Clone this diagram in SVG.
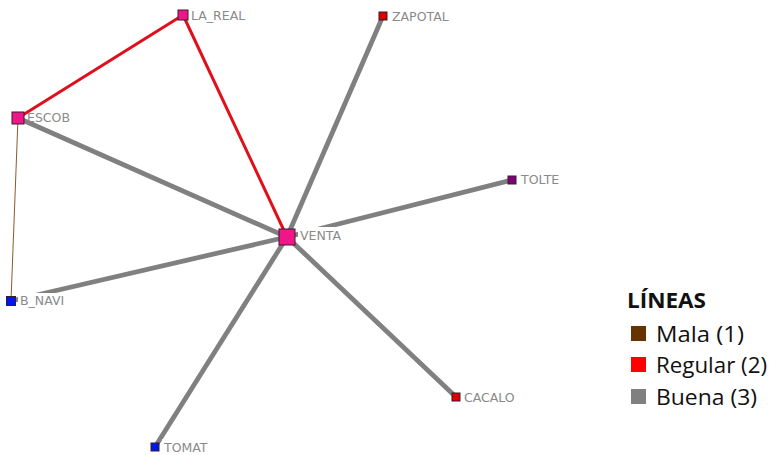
<svg xmlns="http://www.w3.org/2000/svg" width="772" height="455" viewBox="0 0 772 455">
<style>
.good{stroke:#808080;stroke-width:4.8;fill:none}
.reg{stroke:#E0101A;stroke-width:3;fill:none}
.bad{stroke:#8B5A2B;stroke-width:1;fill:none}
.lbl{font-family:"DejaVu Sans","Liberation Sans",sans-serif;font-size:12.5px;fill:#8a8a8a}
.bg{fill:#fff}
.n{stroke:#3a1a2a;stroke-width:1}
.pink{fill:#F0168A}
.red{fill:#E00000}
.blue{fill:#0018F0}
.purple{fill:#80007A}
.leg{font-family:"Open Sans","Liberation Sans",sans-serif;font-size:21px;fill:#111}
</style>
<rect width="772" height="455" fill="#fff"/>
<g id="connectors">
<line class="good" x1="18" y1="118" x2="287" y2="237"/>
<line class="good" x1="383" y1="16" x2="287" y2="237"/>
<line class="good" x1="512" y1="180" x2="287" y2="237"/>
<line class="good" x1="11" y1="301" x2="287" y2="237"/>
<line class="good" x1="456" y1="397" x2="287" y2="237"/>
<line class="good" x1="155" y1="447" x2="287" y2="237"/>
<line class="reg" x1="18" y1="118" x2="183" y2="15"/>
<line class="reg" x1="183" y1="15" x2="287" y2="237"/>
<line class="bad" x1="18" y1="118" x2="11" y2="301"/>
</g>
<g id="LA_REAL"><rect class="n pink" x="178" y="10" width="10" height="10"/><text class="lbl" x="191" y="20">LA_REAL</text></g>
<g id="ESCOB"><rect class="n pink" x="12" y="112" width="12" height="12"/><text class="lbl" x="27" y="122">ESCOB</text></g>
<g id="ZAPOTAL"><rect class="n red" x="379" y="12" width="8" height="8"/><text class="lbl" x="392" y="21">ZAPOTAL</text></g>
<g id="TOLTE"><rect class="n purple" x="508" y="176" width="8" height="8"/><rect class="bg" x="519" y="172" width="44" height="14"/><text class="lbl" x="521" y="184">TOLTE</text></g>
<g id="VENTA"><rect class="n pink" x="279" y="229" width="16" height="16"/><rect class="bg" x="298" y="227" width="50" height="16"/><text class="lbl" x="300" y="240">VENTA</text></g>
<g id="B_NAVI"><rect class="n blue" x="6.5" y="296.5" width="9" height="9"/><rect class="bg" x="18" y="293" width="56" height="15"/><text class="lbl" x="20" y="305">B_NAVI</text></g>
<g id="CACALO"><rect class="n red" x="452" y="393" width="8" height="8"/><text class="lbl" x="464" y="402">CACALO</text></g>
<g id="TOMAT"><rect class="n blue" x="151" y="443" width="8" height="8"/><rect class="bg" x="162" y="439" width="54" height="15"/><text class="lbl" x="164" y="452">TOMAT</text></g>
<g id="legend">
<text class="leg" x="627" y="308" font-weight="bold" textLength="79" lengthAdjust="spacingAndGlyphs">LÍNEAS</text>
<rect x="631" y="326" width="15" height="15" fill="#663300"/>
<text class="leg" x="656" y="342" textLength="88" lengthAdjust="spacingAndGlyphs">Mala (1)</text>
<rect x="631" y="357" width="15" height="15" fill="#FF0000"/>
<text class="leg" x="656" y="373" textLength="111" lengthAdjust="spacingAndGlyphs">Regular (2)</text>
<rect x="631" y="389" width="15" height="15" fill="#808080"/>
<text class="leg" x="656" y="405" textLength="101" lengthAdjust="spacingAndGlyphs">Buena (3)</text>
</g>
</svg>
